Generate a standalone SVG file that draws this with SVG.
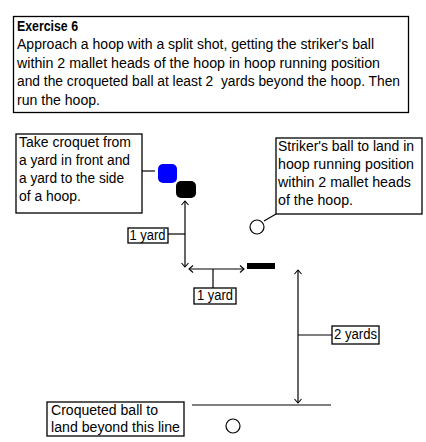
<svg xmlns="http://www.w3.org/2000/svg" width="426" height="442" viewBox="0 0 426 442">
<style>
text{font-family:"Liberation Sans",Arial,sans-serif;font-size:14px;fill:#000}
.b{fill:#fff;stroke:#000;stroke-width:1.3}
.l{stroke:#000;stroke-width:1.2;fill:none}
.a{stroke:#000;stroke-width:1.2;fill:none;marker-start:url(#ah);marker-end:url(#ah)}
</style>
<defs>
<marker id="ah" viewBox="-6 -5 7 10" markerWidth="7" markerHeight="10" refX="0" refY="0" orient="auto-start-reverse" markerUnits="userSpaceOnUse">
<path d="M-4,-3.5 L0,0 L-4,3.5" fill="none" stroke="#000" stroke-width="1.1"/>
</marker>
</defs>
<rect width="426" height="442" fill="#fff"/>
<g id="title">
<rect class="b" x="13.5" y="16.5" width="395" height="96"/>
<text x="17" y="30.7" font-weight="bold" textLength="61" lengthAdjust="spacingAndGlyphs">Exercise 6</text>
<text x="17" y="49.2" textLength="357" lengthAdjust="spacingAndGlyphs">Approach a hoop with a split shot, getting the striker's ball</text>
<text x="17" y="67.7" textLength="363" lengthAdjust="spacingAndGlyphs">within 2 mallet heads of the hoop in hoop running position</text>
<text x="17" y="86.2" textLength="383" lengthAdjust="spacingAndGlyphs" xml:space="preserve">and the croqueted ball at least 2  yards beyond the hoop. Then</text>
<text x="17" y="104.7" textLength="83" lengthAdjust="spacingAndGlyphs">run the hoop.</text>
</g>
<g id="connectors">
<line class="l" x1="142" y1="171" x2="155" y2="171"/>
<line class="a" x1="185" y1="201" x2="185" y2="267"/>
<line class="l" x1="168" y1="234" x2="185" y2="234"/>
<line class="a" x1="189" y1="269" x2="244" y2="269"/>
<line class="l" x1="213" y1="269" x2="213" y2="288"/>
<line class="l" x1="276" y1="214" x2="264" y2="221"/>
<line class="a" x1="298" y1="270" x2="298" y2="403"/>
<line class="l" x1="298" y1="335" x2="332" y2="335"/>
<line class="l" x1="192" y1="405" x2="331" y2="405"/>
</g>
<g id="left-note">
<rect class="b" x="16" y="134" width="126" height="79"/>
<text x="19" y="146.7" textLength="112" lengthAdjust="spacingAndGlyphs">Take croquet from</text>
<text x="19" y="164.7" textLength="111" lengthAdjust="spacingAndGlyphs">a yard in front and</text>
<text x="19" y="182.7" textLength="105" lengthAdjust="spacingAndGlyphs">a yard to the side</text>
<text x="19" y="200.7" textLength="62" lengthAdjust="spacingAndGlyphs">of a hoop.</text>
</g>
<g id="blue-ball"><rect x="158" y="164" width="19" height="19" rx="5" fill="#0000ff"/></g>
<g id="black-ball"><rect x="176" y="181" width="20" height="17" rx="5" fill="#000"/></g>
<g id="label-1yard-v">
<rect class="b" x="128" y="228" width="40" height="15"/>
<text x="129.5" y="239.5" textLength="36" lengthAdjust="spacingAndGlyphs">1 yard</text>
</g>
<g id="label-1yard-h">
<rect class="b" x="194" y="288" width="42" height="16"/>
<text x="197" y="300" textLength="36" lengthAdjust="spacingAndGlyphs">1 yard</text>
</g>
<g id="hoop"><rect x="247" y="263" width="28" height="6" fill="#000"/></g>
<g id="right-note">
<rect class="b" x="276" y="138" width="146" height="76"/>
<text x="278" y="150.7" textLength="136" lengthAdjust="spacingAndGlyphs">Striker's ball to land in</text>
<text x="278" y="168.7" textLength="136" lengthAdjust="spacingAndGlyphs">hoop running position</text>
<text x="278" y="186.7" textLength="133" lengthAdjust="spacingAndGlyphs">within 2 mallet heads</text>
<text x="278" y="204.7" textLength="75" lengthAdjust="spacingAndGlyphs">of the hoop.</text>
</g>
<g id="striker-ball"><circle cx="257" cy="227" r="7" fill="#fff" stroke="#000" stroke-width="1.2"/></g>
<g id="label-2yards">
<rect class="b" x="332" y="326" width="47" height="18"/>
<text x="334" y="338.5" textLength="43" lengthAdjust="spacingAndGlyphs">2 yards</text>
</g>
<g id="bottom-note">
<rect class="b" x="47" y="402" width="137" height="34"/>
<text x="51" y="414.5" textLength="107" lengthAdjust="spacingAndGlyphs">Croqueted ball to</text>
<text x="51" y="432" textLength="129" lengthAdjust="spacingAndGlyphs">land beyond this line</text>
</g>
<g id="croqueted-ball"><circle cx="233" cy="426" r="7" fill="#fff" stroke="#000" stroke-width="1.2"/></g>
</svg>
